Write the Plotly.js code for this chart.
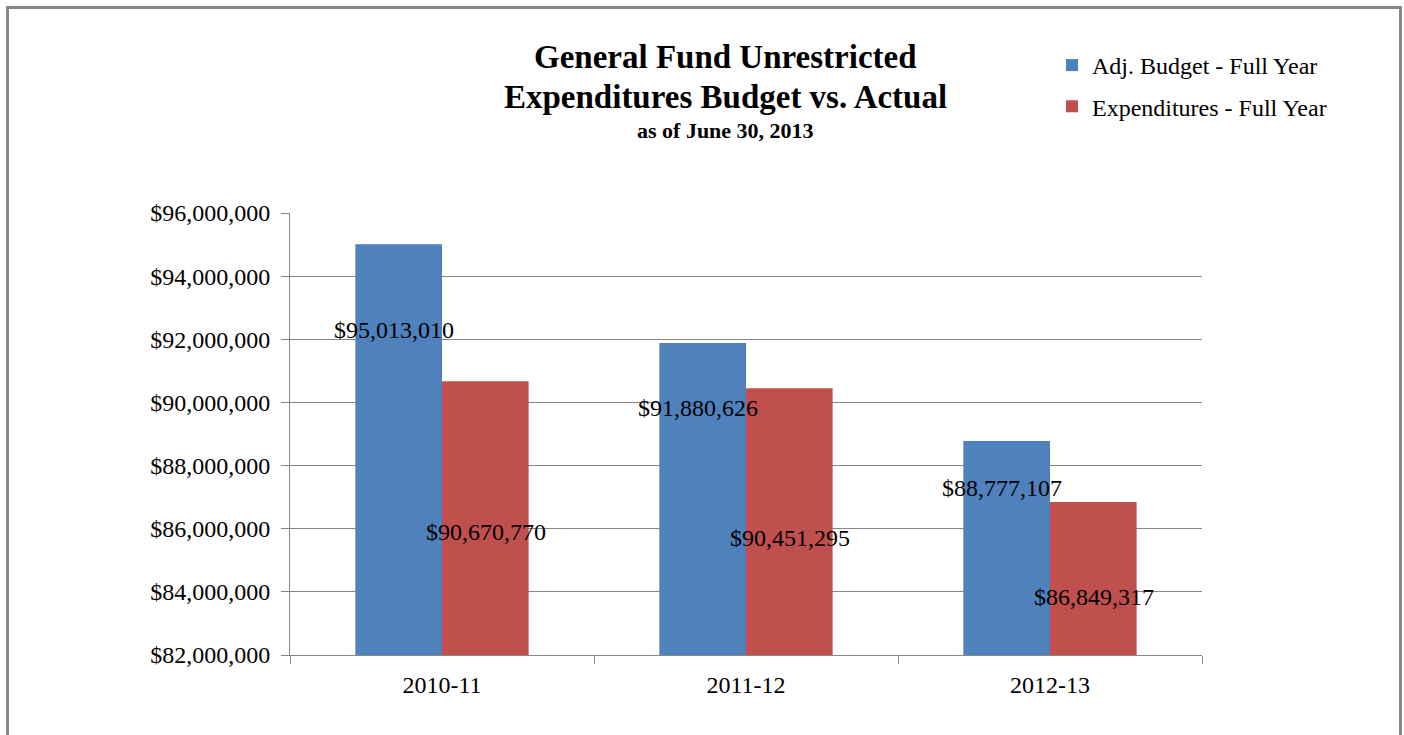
<!DOCTYPE html>
<html>
<head>
<meta charset="utf-8">
<script src="https://cdn.plot.ly/plotly-3.0.1.min.js"></script>
<style>
  html, body { margin: 0; padding: 0; background: #fff; overflow: hidden; }
  #frame { position: absolute; left: 6px; top: 6px; width: 1390px; height: 760px;
           border-left: 3px solid #878787; border-top: 3px solid #878787; border-right: 3px solid #878787; }
  #chart { position: absolute; left: 0; top: 0; width: 1404px; height: 735px; }
</style>
</head>
<body>
<div id="frame"></div>
<div id="chart"></div>
<script>
// ---- data ----
const categories = ["2010-11", "2011-12", "2012-13"];
const seriesNames = ["Adj. Budget - Full Year", "Expenditures - Full Year"];
const budgetValues = [95013010, 91880626, 88777107];
const expenditureValues = [90670770, 90451295, 86849317];
const yTickValues = [82000000, 84000000, 86000000, 88000000, 90000000, 92000000, 94000000, 96000000];

// ---- layout constants (label placement, not data) ----
const labelYBudget = [92290000, 89820000, 87290000];
const labelYExpend = [85900000, 85710000, 83840000];

const FONT = "Liberation Serif, Times New Roman, serif";
const fmt = v => "$" + v.toLocaleString("en-US");

const traces = [
  { type: "bar", name: seriesNames[0], x: categories, y: budgetValues,
    marker: { color: "#4F81BD" }, legendgroup: "a", hoverinfo: "none" },
  { type: "bar", name: seriesNames[1], x: categories, y: expenditureValues,
    marker: { color: "#C0504D" }, legendgroup: "b", hoverinfo: "none" }
];

const annotations = [];
categories.forEach((c, i) => {
  annotations.push({ x: c, y: labelYBudget[i], xref: "x", yref: "y", text: fmt(budgetValues[i]),
    showarrow: false, xshift: -48, font: { family: FONT, size: 24, color: "#000" } });
  annotations.push({ x: c, y: labelYExpend[i], xref: "x", yref: "y", text: fmt(expenditureValues[i]),
    showarrow: false, xshift: 44, font: { family: FONT, size: 24, color: "#000" } });
});
// title lines
annotations.push({ xref: "paper", yref: "paper", x: 0.478, y: 1 + (213 - 57) / 442, text: "<b>General Fund Unrestricted</b>",
  showarrow: false, font: { family: FONT, size: 33, color: "#000" }, xanchor: "center", yanchor: "middle" });
annotations.push({ xref: "paper", yref: "paper", x: 0.478, y: 1 + (213 - 97) / 442, text: "<b>Expenditures Budget vs. Actual</b>",
  showarrow: false, font: { family: FONT, size: 33, color: "#000" }, xanchor: "center", yanchor: "middle" });
annotations.push({ xref: "paper", yref: "paper", x: 0.478, y: 1 + (213 - 130) / 442, text: "<b>as of June 30, 2013</b>",
  showarrow: false, font: { family: FONT, size: 22, color: "#000" }, xanchor: "center", yanchor: "middle" });

const layout = {
  width: 1404, height: 735,
  margin: { l: 290, r: 202, t: 213, b: 80, pad: 0 },
  paper_bgcolor: "rgba(0,0,0,0)", plot_bgcolor: "rgba(0,0,0,0)",
  barmode: "group", bargap: 0.43, bargroupgap: 0,
  font: { family: FONT, size: 24, color: "#000" },
  showlegend: true,
  legend: { x: 0.8355, y: 1 + (213 - 43) / 442, xanchor: "left", yanchor: "top",
    font: { family: FONT, size: 24, color: "#000" }, traceorder: "grouped", tracegroupgap: 7,
    bgcolor: "rgba(0,0,0,0)", itemwidth: 30 },
  xaxis: { type: "category", showline: true, linecolor: "#868686", linewidth: 1,
    ticks: "outside", ticklen: 8, tickcolor: "#868686", tickson: "boundaries",
    showgrid: false, tickfont: { family: FONT, size: 24 }, ticklabelstandoff: 8, fixedrange: true },
  yaxis: { range: [82000000, 96000000], tickvals: yTickValues, ticktext: yTickValues.map(fmt),
    showline: true, linecolor: "#868686", linewidth: 1, ticks: "outside", ticklen: 8, tickcolor: "#868686",
    showgrid: true, gridcolor: "#868686", gridwidth: 1, zeroline: false,
    tickfont: { family: FONT, size: 24 }, ticklabelstandoff: 6, fixedrange: true },
  annotations: annotations
};

Plotly.newPlot("chart", traces, layout, { displayModeBar: false, staticPlot: true });
</script>
</body>
</html>
